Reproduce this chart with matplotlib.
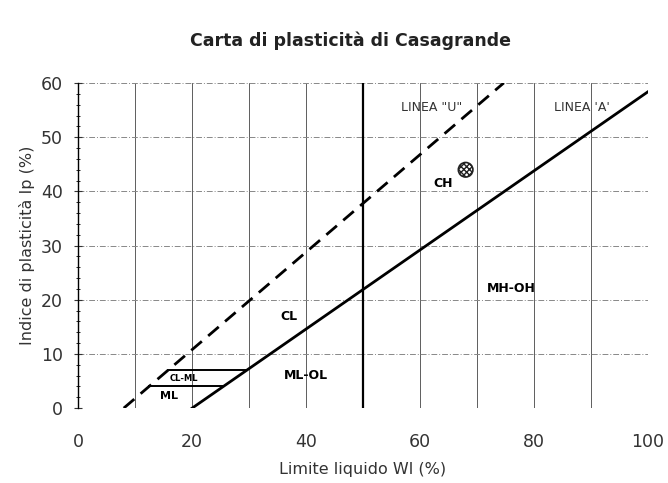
import numpy as np
import matplotlib.pyplot as plt

# Carta di Casagrande: linee di riferimento
ll_a = np.array([20, 100])          # Linea A: Ip = 0.73 (Wl - 20)
ip_a = 0.73 * (ll_a - 20)
ll_u = np.array([8, 74.7])          # Linea U: Ip = 0.9 (Wl - 8)
ip_u = 0.9 * (ll_u - 8)
ip_clml = [4, 7]                    # limiti zona CL-ML

# Campione
wl_camp = [68]
ip_camp = [44]

# Etichette zone (testo, Wl, Ip, dimensione)
zone = [("CH", 64, 41.5, 9), ("MH-OH", 76, 22, 9), ("CL", 37, 17, 9),
        ("ML-OL", 40, 6, 9), ("CL-ML", 18.5, 5.4, 6), ("ML", 16, 2.3, 8)]

plt.rcParams['font.family'] = ['DejaVu Sans']
plt.rcParams['hatch.linewidth'] = 1.0

fig = plt.figure(figsize=(6.68, 4.83), dpi=100)
ax = fig.add_axes([0.117, 0.155, 0.853, 0.673])

# griglia
for x in range(10, 101, 10):
    ax.plot([x, x], [0, 60], color='#444444', lw=0.6, zorder=1)
for y in range(0, 61, 10):
    ax.plot([0, 100], [y, y], color='#888888', lw=0.7, ls=(0, (6, 2, 1, 2)), zorder=1)
ax.plot([50, 50], [0, 60], color='black', lw=1.6, zorder=2)

ax.plot(ll_a, ip_a, color='black', lw=2, zorder=3)
ax.plot(ll_u, ip_u, color='black', lw=2, ls=(0, (5, 3)), zorder=3)
for ip in ip_clml:
    ax.plot([ip / 0.9 + 8, ip / 0.73 + 20], [ip, ip], color='black', lw=1.4, zorder=3)

ax.scatter(wl_camp, ip_camp, s=110, facecolor='white', edgecolor='#222222',
           hatch='xxxxxx', lw=1.2, zorder=4)

for testo, x, y, fs in zone:
    ax.text(x, y, testo, fontsize=fs, fontweight='bold', ha='center', va='center', zorder=5)
ax.text(62, 55.5, 'LINEA "U"', fontsize=9, ha='center', va='center', color='#333333')
ax.text(88.5, 55.5, "LINEA 'A'", fontsize=9, ha='center', va='center', color='#333333')

ax.set_xlim(0, 100)
ax.set_ylim(0, 60)
ax.set_xticks(range(0, 101, 20))
ax.set_yticks(range(0, 61, 10))
ax.set_yticks(range(0, 61, 2), minor=True)
for s in ['top', 'right', 'bottom']:
    ax.spines[s].set_visible(False)
ax.spines['left'].set_linewidth(1.0)
ax.tick_params(axis='x', length=0, pad=18, labelsize=12.5, colors='#333333')
ax.tick_params(axis='y', which='major', direction='inout', length=6, pad=8,
               labelsize=12.5, colors='#333333')
ax.tick_params(axis='y', which='minor', direction='inout', length=3)
ax.set_xlabel('Limite liquido Wl (%)', fontsize=11.5, labelpad=8, color='#333333')
ax.set_ylabel('Indice di plasticità Ip (%)', fontsize=11.5, labelpad=4, color='#333333')

fig.text(0.525, 0.915, 'Carta di plasticità di Casagrande', ha='center', va='center',
         fontsize=12.5, fontweight='bold', color='#222222')

fig.savefig('out.png', dpi=100)
